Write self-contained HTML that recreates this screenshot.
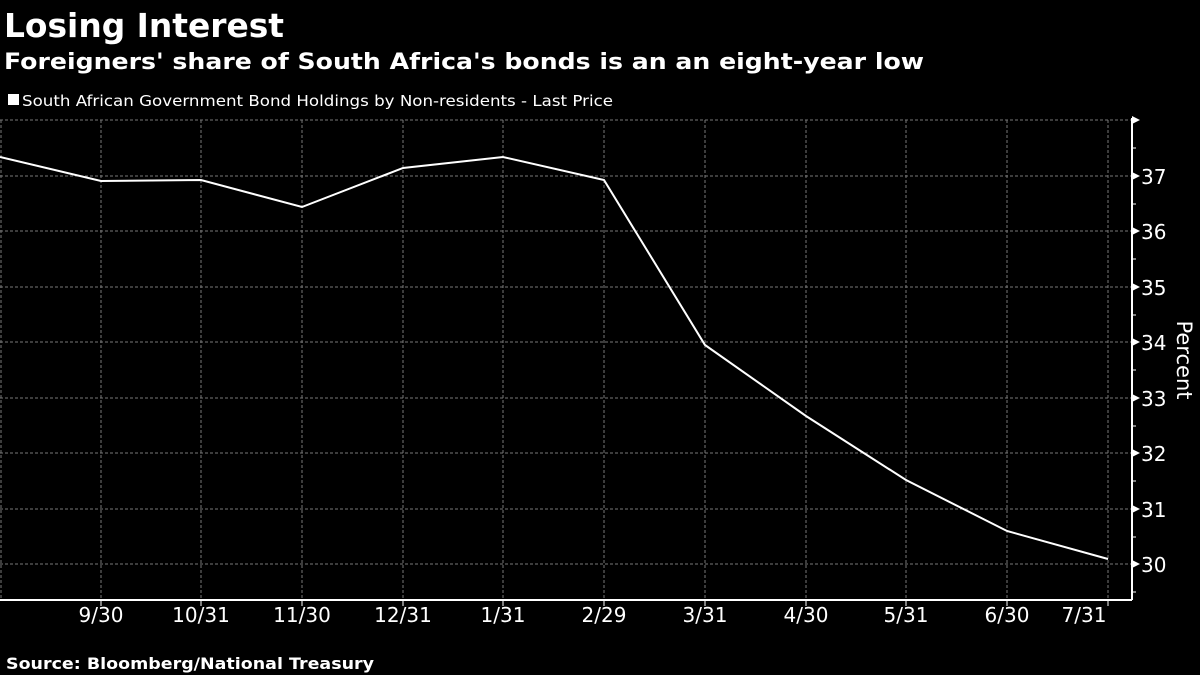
<!DOCTYPE html>
<html><head><style>
html,body{margin:0;padding:0;background:#000;}
body{width:1200px;height:675px;overflow:hidden;position:relative;font-family:"DejaVu Sans","Liberation Sans",sans-serif;color:#fff;}
</style></head><body>
<svg width="1200" height="675" viewBox="0 0 1200 675" xmlns="http://www.w3.org/2000/svg" style="position:absolute;left:0;top:0">
<text x="4" y="37" font-family="DejaVu Sans, sans-serif" font-weight="bold" font-size="33" fill="#fff" textLength="280" lengthAdjust="spacingAndGlyphs">Losing Interest</text>
<text x="4" y="69" font-family="DejaVu Sans, sans-serif" font-weight="bold" font-size="22" fill="#fff" textLength="920" lengthAdjust="spacingAndGlyphs">Foreigners' share of South Africa's bonds is an an eight-year low</text>
<rect x="8" y="94" width="11" height="11" fill="#fff"/>
<text x="22" y="106" font-family="DejaVu Sans, sans-serif" font-size="15" fill="#fff" textLength="591" lengthAdjust="spacingAndGlyphs">South African Government Bond Holdings by Non-residents - Last Price</text>
<g stroke="#777" stroke-width="1" stroke-dasharray="3,2">
<line x1="0" y1="120" x2="1132" y2="120"/>
<line x1="0" y1="176" x2="1132" y2="176"/>
<line x1="0" y1="231" x2="1132" y2="231"/>
<line x1="0" y1="287" x2="1132" y2="287"/>
<line x1="0" y1="342" x2="1132" y2="342"/>
<line x1="0" y1="398" x2="1132" y2="398"/>
<line x1="0" y1="453" x2="1132" y2="453"/>
<line x1="0" y1="509" x2="1132" y2="509"/>
<line x1="0" y1="564" x2="1132" y2="564"/>
<line x1="1" y1="120" x2="1" y2="600"/>
<line x1="101" y1="120" x2="101" y2="600"/>
<line x1="201" y1="120" x2="201" y2="600"/>
<line x1="302" y1="120" x2="302" y2="600"/>
<line x1="403" y1="120" x2="403" y2="600"/>
<line x1="503" y1="120" x2="503" y2="600"/>
<line x1="604" y1="120" x2="604" y2="600"/>
<line x1="705" y1="120" x2="705" y2="600"/>
<line x1="806" y1="120" x2="806" y2="600"/>
<line x1="906" y1="120" x2="906" y2="600"/>
<line x1="1007" y1="120" x2="1007" y2="600"/>
<line x1="1108" y1="120" x2="1108" y2="600"/>
</g>
<g stroke="#fff" stroke-width="2" fill="none">
<line x1="0" y1="600" x2="1132" y2="600"/>
<line x1="1132" y1="118" x2="1132" y2="600"/>
<polyline stroke-width="2" points="0,157 101,181 201,180 302,207 403,168 503,157 604,180 705,345 806,416 906,480 1007,531 1108,559"/>
</g>
<g stroke="#fff" stroke-width="1">
<line x1="101" y1="600" x2="101" y2="606"/><line x1="201" y1="600" x2="201" y2="606"/><line x1="302" y1="600" x2="302" y2="606"/><line x1="403" y1="600" x2="403" y2="606"/><line x1="503" y1="600" x2="503" y2="606"/><line x1="604" y1="600" x2="604" y2="606"/><line x1="705" y1="600" x2="705" y2="606"/><line x1="806" y1="600" x2="806" y2="606"/><line x1="906" y1="600" x2="906" y2="606"/><line x1="1007" y1="600" x2="1007" y2="606"/><line x1="1108" y1="600" x2="1108" y2="606"/>
<line x1="1132" y1="148" x2="1136" y2="148"/><line x1="1132" y1="204" x2="1136" y2="204"/><line x1="1132" y1="259" x2="1136" y2="259"/><line x1="1132" y1="315" x2="1136" y2="315"/><line x1="1132" y1="370" x2="1136" y2="370"/><line x1="1132" y1="426" x2="1136" y2="426"/><line x1="1132" y1="481" x2="1136" y2="481"/><line x1="1132" y1="537" x2="1136" y2="537"/><line x1="1132" y1="592" x2="1136" y2="592"/>
</g>
<g fill="#fff">
<polygon points="1132,116 1140,120 1132,124"/>
<polygon points="1132,172 1140,176 1132,180"/>
<polygon points="1132,227 1140,231 1132,235"/>
<polygon points="1132,283 1140,287 1132,291"/>
<polygon points="1132,338 1140,342 1132,346"/>
<polygon points="1132,394 1140,398 1132,402"/>
<polygon points="1132,449 1140,453 1132,457"/>
<polygon points="1132,505 1140,509 1132,513"/>
<polygon points="1132,560 1140,564 1132,568"/>
</g>
<g font-family="DejaVu Sans, sans-serif" font-size="20" fill="#fff">
<text x="1141" y="184">37</text><text x="1141" y="239">36</text><text x="1141" y="295">35</text><text x="1141" y="350">34</text><text x="1141" y="406">33</text><text x="1141" y="461">32</text><text x="1141" y="517">31</text><text x="1141" y="572">30</text>
</g>
<text transform="translate(1177,360) rotate(90)" text-anchor="middle" font-family="DejaVu Sans, sans-serif" font-size="21" fill="#fff">Percent</text>
<g font-family="DejaVu Sans, sans-serif" font-size="20" fill="#fff" text-anchor="middle">
<text x="101" y="622">9/30</text><text x="201" y="622">10/31</text><text x="302" y="622">11/30</text><text x="403" y="622">12/31</text><text x="503" y="622">1/31</text><text x="604" y="622">2/29</text><text x="705" y="622">3/31</text><text x="806" y="622">4/30</text><text x="906" y="622">5/31</text><text x="1007" y="622">6/30</text><text x="1084" y="622">7/31</text>
</g>
<text x="6" y="669" font-family="DejaVu Sans, sans-serif" font-weight="bold" font-size="16" fill="#fff" textLength="368" lengthAdjust="spacingAndGlyphs">Source:  Bloomberg/National Treasury</text>
</svg>
</body></html>
